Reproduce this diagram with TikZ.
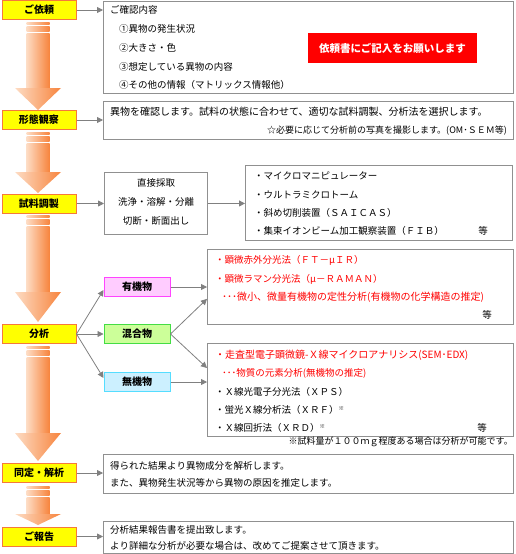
\documentclass[tikz,border=0pt]{standalone}
\usepackage{fontspec}
\setmainfont{Noto Sans CJK JP}
\usetikzlibrary{arrows.meta,positioning,calc}
\definecolor{stepfill}{HTML}{FFFF00}
\definecolor{stepline}{HTML}{F5793B}
\definecolor{arrowpale}{HTML}{FDDCC4}
\definecolor{arroworange}{HTML}{F7843D}
\definecolor{boxline}{HTML}{909090}
\definecolor{linkgray}{HTML}{808080}
\definecolor{redtext}{HTML}{FF0000}
\definecolor{orgfill}{HTML}{FFCCFF}
\definecolor{orgline}{HTML}{FF44FF}
\definecolor{mixfill}{HTML}{CCFF99}
\definecolor{mixline}{HTML}{44DD44}
\definecolor{inofill}{HTML}{CCF0FF}
\definecolor{inoline}{HTML}{55DDFF}
\newcommand{\kome}{\raisebox{3pt}{\fontsize{5.5}{6}\selectfont ※}}

\begin{document}
\begin{tikzpicture}[
    x=1pt, y=-1pt,
    every node/.style={font=\fontsize{9.5}{11}\selectfont, inner sep=0},
    stepbox/.style={draw=stepline, fill=stepfill, line width=1pt, minimum width=74pt, minimum height=19pt, font=\bfseries\fontsize{10}{11}\selectfont},
    infobox/.style={draw=boxline, line width=0.9pt, fill=white, anchor=north west},
    kindbox/.style={line width=1pt, minimum width=66pt, minimum height=19pt, font=\bfseries\fontsize{10}{11}\selectfont},
    line/.style={anchor=west},
    redline/.style={anchor=west, text=redtext},
    wide/.style={font=\fontsize{10}{11}\selectfont},
    link/.style={draw=linkgray, line width=0.8pt, -{Triangle[length=6pt,width=6pt]}, linkgray},
    flowshade/.style={left color=arrowpale, right color=arroworange}
]
\useasboundingbox (0,0) rectangle (515,554);

% big orange arrows between the steps
\foreach \s/\h/\t in {20/88/110, 130/172/193, 213/292/322, 344/433/461, 484/514/525} {
  \shade[flowshade] (26.5,\s+2) rectangle (49.5,\s+4);
  \shade[flowshade] (26.5,\s+6.5) rectangle (49.5,\s+11);
  \shade[flowshade] (26.5,\s+13.5) rectangle (49.5,\h+0.5);
  \shade[flowshade] (15,\h) -- (61,\h) -- (38,\t) -- cycle;
}

% steps
\node[stepbox] (request) at (39,10) {ご依頼};
\node[stepbox] (observe) at (39,120) {形態観察};
\node[stepbox] (prepare) at (39,203.5) {試料調製};
\node[stepbox] (analyze) at (39,334) {分析};
\node[stepbox] (identify) at (39,473) {同定・解析};
\node[stepbox] (report) at (39,536.5) {ご報告};

% request
\node[infobox, minimum width=410pt, minimum height=92pt] (confirm) at (103,1) {};
\node[line] (c0) at (110,10) {ご確認内容};
\node[line] (c1) at (119,29) {①異物の発生状況};
\node[line] (c2) at (119,48) {②大きさ・色};
\node[line] (c3) at (119,67) {③想定している異物の内容};
\node[line] (c4) at (119,85) {④その他の情報（マトリックス情報他）};
\node[fill=redtext, minimum width=169pt, minimum height=30pt, text=white, font=\bfseries\fontsize{10.5}{11}\selectfont] (notice) at (392.5,48) {依頼書にご記入をお願いします};

% observation
\node[infobox, minimum width=410pt, minimum height=38pt] (findings) at (103,101) {};
\node[line, wide] (f1) at (110,112) {異物を確認します。試料の状態に合わせて、適切な試料調製、分析法を選択します。};
\node[anchor=east, font=\fontsize{9}{11}\selectfont] (f2) at (507,131) {☆必要に応じて分析前の写真を撮影します。(OM･ＳＥＭ等)};

% preparation
\node[infobox, minimum width=103pt, minimum height=62pt] (direct) at (104,172) {};
\node (d1) at (156,183) {直接採取};
\node (d2) at (156,202) {洗浄・溶解・分離};
\node (d3) at (156,221) {切断・断面出し};
\node[infobox, minimum width=267pt, minimum height=75pt] (tools) at (245,165) {};
\node[line] (t1) at (254,176) {・マイクロマニピュレーター};
\node[line] (t2) at (254,194.5) {・ウルトラミクロトーム};
\node[line] (t3) at (254,213) {・斜め切削装置（ＳＡＩＣＡＳ）};
\node[line] (t4) at (254,231) {・集束イオンビーム加工観察装置（ＦＩＢ）};
\node (t5) at (483,231) {等};

% analysis
\node[kindbox, draw=mixline, fill=mixfill, right=27pt of analyze] (mixture) {混合物};
\node[kindbox, draw=orgline, fill=orgfill, above=27pt of mixture] (organic) {有機物};
\node[kindbox, draw=inoline, fill=inofill, below=28pt of mixture] (inorganic) {無機物};
\node[infobox, minimum width=306pt, minimum height=75pt] (orgmethods) at (207,249) {};
\node[redline] (o1) at (215,260) {・顕微赤外分光法（ＦＴ－μＩＲ）};
\node[redline] (o2) at (215,279) {・顕微ラマン分光法（μ－ＲＡＭＡＮ）};
\node[redline, wide] (o3) at (222,297) {･･･微小、微量有機物の定性分析(有機物の化学構造の推定)};
\node (o4) at (487,315) {等};
\node[infobox, minimum width=306pt, minimum height=93pt] (inomethods) at (207,343) {};
\node[redline, wide] (i1) at (215,355) {・走査型電子顕微鏡-Ｘ線マイクロアナリシス(SEM･EDX)};
\node[redline] (i2) at (222,373) {･･･物質の元素分析(無機物の推定)};
\node[line] (i3) at (215,392) {・Ｘ線光電子分光法（ＸＰＳ）};
\node[line] (i4) at (215,410) {・蛍光Ｘ線分析法（ＸＲＦ）\kome};
\node[line] (i5) at (215,428) {・Ｘ線回折法（ＸＲＤ）\kome};
\node (i6) at (482,428) {等};
\node[anchor=east, font=\fontsize{9}{11}\selectfont] (amount) at (513,442) {※試料量が１００ｍｇ程度ある場合は分析が可能です。};

% identification and report
\node[infobox, minimum width=410pt, minimum height=39pt] (result) at (103,454) {};
\node[line] (r1) at (110,466) {得られた結果より異物成分を解析します。};
\node[line] (r2) at (110,483) {また、異物発生状況等から異物の原因を推定します。};
\node[infobox, minimum width=410pt, minimum height=32pt] (summary) at (103,521) {};
\node[line] (s1) at (110,529.5) {分析結果報告書を提出致します。};
\node[line] (s2) at (110,546) {より詳細な分析が必要な場合は、改めてご提案させて頂きます。};

% connectors
\draw[link] (request.east) -- (request.east -| confirm.west);
\draw[link] (observe.east) -- (observe.east -| findings.west);
\draw[link] (prepare.east) -- (prepare.east -| direct.west);
\draw[link] (direct.east) -- (direct.east -| tools.west);
\draw[link] (analyze.east) -- ($(organic.west)+(0,3)$);
\draw[link] (analyze.east) -- (mixture.west);
\draw[link] (analyze.east) -- ($(inorganic.west)+(0,-4)$);
\draw[link] (organic.east) -- (organic.east -| orgmethods.west);
\draw[link] (mixture.east) -- ($(orgmethods.south west)+(0,-26)$);
\draw[link] (mixture.east) -- ($(inomethods.north west)+(0,25)$);
\draw[link] (inorganic.east) -- (inorganic.east -| inomethods.west);
\draw[link] (identify.east) -- (identify.east -| result.west);
\draw[link] (report.east) -- (report.east -| summary.west);
\end{tikzpicture}
\end{document}
